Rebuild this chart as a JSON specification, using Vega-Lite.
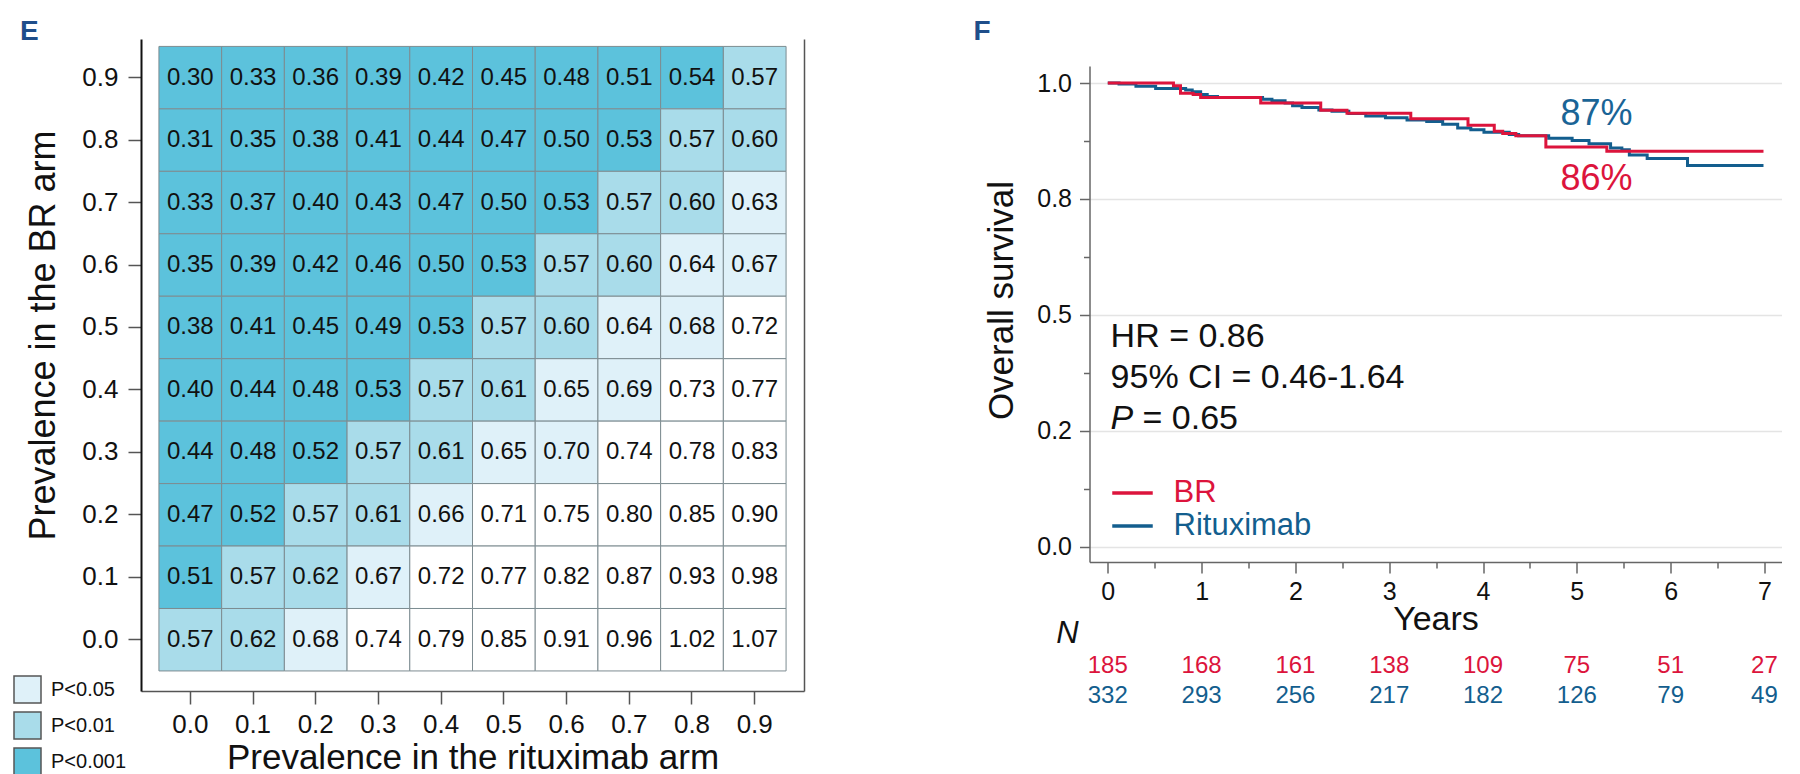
{
  "$schema": "https://vega.github.io/schema/vega-lite/v6.json",
  "background": "white",
  "padding": {"left": 13, "top": 18, "right": 0, "bottom": 0},
  "concat": [
    {
      "width": 663,
      "height": 652,
      "title": {"text": "E", "anchor": "start", "frame": "group", "dx": -121, "offset": -29.3, "baseline": "alphabetic", "fontSize": 28, "fontWeight": "bold", "color": "#1f4e8a"},
      "data": {"name": "heat"},
      "layer": [
        {
          "mark": {"type": "rect", "stroke": "#7d8c91", "strokeWidth": 1},
          "encoding": {
            "x": {"field": "r", "type": "ordinal", "scale": {"paddingInner": 0, "paddingOuter": 0.286},
              "axis": {"title": "Prevalence in the rituximab arm", "titleFontSize": 35, "titleBaseline": "alphabetic", "titleY": 77, "labelFontSize": 26, "labelAngle": 0, "format": ".1f", "formatType": "number", "tickSize": 13, "tickColor": "#555", "tickWidth": 1.5, "domainColor": "#555", "domainWidth": 1.5, "labelPadding": 7}},
            "y": {"field": "b", "type": "ordinal", "sort": "descending", "scale": {"paddingInner": 0, "paddingOuter": 0.22, "align": 0.27},
              "axis": {"title": "Prevalence in the BR arm", "titleFontSize": 36, "titleBaseline": "middle", "titleX": -98, "titleY": 296, "labelFontSize": 26, "format": ".1f", "formatType": "number", "tickSize": 13, "tickColor": "#555", "tickWidth": 1.5, "domainColor": "#111", "domainWidth": 2, "labelPadding": 10}},
            "color": {"field": "p", "type": "nominal",
              "scale": {"domain": ["P<0.05", "P<0.01", "P<0.001", "ns"], "range": ["#dff1f9", "#a9dcea", "#5cc2dc", "#ffffff"]},
              "legend": {"orient": "none", "legendX": -128, "legendY": 636, "title": null, "values": ["P<0.05", "P<0.01", "P<0.001"], "symbolType": "square", "symbolSize": 729, "symbolStrokeColor": "#555", "symbolStrokeWidth": 1.5, "symbolOpacity": 1, "labelFontSize": 20, "labelColor": "#111", "labelOffset": 9, "rowPadding": 3, "padding": 0}}
          }
        },
        {
          "mark": {"type": "text", "fontSize": 24, "color": "#111"},
          "encoding": {
            "x": {"field": "r", "type": "ordinal"},
            "y": {"field": "b", "type": "ordinal", "sort": "descending",
              "axis": {"orient": "right", "labels": false, "ticks": false, "title": null, "grid": false, "domain": true, "domainColor": "#555", "domainWidth": 1.5}},
            "text": {"field": "hr", "type": "quantitative", "format": ".2f"}
          }
        }
      ],
      "resolve": {"axis": {"y": "independent"}}
    },
    {
      "width": 692,
      "height": 523,
      "title": {"text": "F", "anchor": "start", "frame": "group", "dx": -116, "offset": -29.3, "baseline": "alphabetic", "fontSize": 28, "fontWeight": "bold", "color": "#1f4e8a"},
      "layer": [
        {
          "data": {"name": "km"},
          "mark": {"type": "line", "interpolate": "step-after", "strokeWidth": 3},
          "encoding": {
            "x": {"field": "t", "type": "quantitative", "scale": {"domain": [-0.195, 7.182], "nice": false, "zero": false},
              "axis": {"title": "Years", "titleFontSize": 34, "titleBaseline": "alphabetic", "titleY": 67, "labelFontSize": 25, "grid": false,
                "values": [0, 0.25, 0.5, 0.75, 1, 1.25, 1.5, 1.75, 2, 2.25, 2.5, 2.75, 3, 3.25, 3.5, 3.75, 4, 4.25, 4.5, 4.75, 5, 5.25, 5.5, 5.75, 6, 6.25, 6.5, 6.75, 7],
                "labelExpr": "datum.value % 1 === 0 ? format(datum.value, 'd') : ''",
                "labelOverlap": false, "labelFlush": false,
                "tickSize": {"condition": {"test": "datum.value % 1 === 0", "value": 11}, "value": 6},
                "tickColor": "#666", "tickWidth": 1.5, "domainColor": "#666", "domainWidth": 1.5, "labelPadding": 6}},
            "y": {"field": "s", "type": "quantitative", "scale": {"domain": [-0.033, 1.0949], "nice": false, "zero": false},
              "axis": {"title": "Overall survival", "titleFontSize": 35, "titleBaseline": "middle", "titleX": -88, "titleY": 261, "labelFontSize": 25,
                "domain": true, "domainColor": "#666", "domainWidth": 1.5, "domainDash": [496, 300],
                "values": [0, 0.125, 0.25, 0.375, 0.5, 0.625, 0.75, 0.875, 1],
                "labelExpr": "datum.value === 0 ? '0.0' : datum.value === 0.25 ? '0.2' : datum.value === 0.5 ? '0.5' : datum.value === 0.75 ? '0.8' : datum.value === 1 ? '1.0' : ''",
                "labelOverlap": false, "labelFlush": false,
                "tickSize": {"condition": {"test": "datum.value * 4 % 1 === 0", "value": 10}, "value": 6},
                "grid": true, "gridColor": "#e4e4e4", "gridWidth": 1.5,
                "gridOpacity": {"condition": {"test": "datum.value * 4 % 1 === 0", "value": 1}, "value": 0},
                "tickColor": "#666", "tickWidth": 1.5, "labelPadding": 8}},
            "color": {"field": "arm", "type": "nominal", "scale": {"domain": ["BR", "Rituximab"], "range": ["#dc143c", "#135e8e"]},
              "legend": {"orient": "none", "legendX": 26, "legendY": 437, "title": null, "symbolType": "M-1.35,0H1.35", "symbolSize": 900, "symbolStrokeWidth": 3.5, "labelFontSize": 31, "labelOffset": 24, "rowPadding": 1, "padding": 0,
                "encode": {"labels": {"update": {"fill": {"signal": "datum.value === 'BR' ? '#dc143c' : '#135e8e'"}}}}}}
          }
        },
        {
          "data": {"name": "ann"},
          "mark": {"type": "text", "align": "left", "baseline": "alphabetic", "fontSize": 34, "color": "#111"},
          "encoding": {
            "x": {"field": "x", "type": "quantitative", "scale": {"domain": [-0.195, 7.182], "nice": false, "zero": false}},
            "y": {"field": "y", "type": "quantitative", "scale": {"domain": [-0.033, 1.0949], "nice": false, "zero": false}, "axis": null},
            "text": {"field": "label"}
          }
        },
        {
          "data": {"name": "annItalic"},
          "mark": {"type": "text", "align": "left", "baseline": "alphabetic", "fontSize": 34, "fontStyle": "italic", "color": "#111"},
          "encoding": {
            "x": {"field": "x", "type": "quantitative", "scale": {"domain": [-0.195, 7.182], "nice": false, "zero": false}},
            "y": {"field": "y", "type": "quantitative", "scale": {"domain": [-0.033, 1.0949], "nice": false, "zero": false}, "axis": null},
            "text": {"field": "label"}
          }
        },
        {
          "data": {"name": "pct"},
          "mark": {"type": "text", "align": "center", "baseline": "alphabetic", "fontSize": 36},
          "encoding": {
            "x": {"field": "x", "type": "quantitative", "scale": {"domain": [-0.195, 7.182], "nice": false, "zero": false}},
            "y": {"field": "y", "type": "quantitative", "scale": {"domain": [-0.033, 1.0949], "nice": false, "zero": false}, "axis": null},
            "text": {"field": "label"},
            "color": {"condition": {"test": "datum.arm === 'BR'", "value": "#dc143c"}, "value": "#1a6496"}
          }
        },
        {
          "data": {"name": "risk"},
          "mark": {"type": "text", "align": "center", "baseline": "alphabetic", "fontSize": 24},
          "encoding": {
            "x": {"field": "t", "type": "quantitative", "scale": {"domain": [-0.195, 7.182], "nice": false, "zero": false}},
            "y": {"field": "arm", "type": "nominal", "scale": {"type": "point", "domain": ["N", "BR", "Rituximab"], "range": [604, 664], "padding": 0}, "axis": null},
            "text": {"field": "n", "type": "quantitative"},
            "color": {"condition": {"test": "datum.arm === 'BR'", "value": "#dc143c"}, "value": "#135e8e"}
          }
        },
        {
          "data": {"name": "nlab"},
          "mark": {"type": "text", "align": "center", "baseline": "alphabetic", "fontSize": 31, "fontStyle": "italic", "color": "#111"},
          "encoding": {
            "x": {"field": "t", "type": "quantitative", "scale": {"domain": [-0.195, 7.182], "nice": false, "zero": false}},
            "y": {"field": "arm", "type": "nominal", "scale": {"type": "point", "domain": ["N", "BR", "Rituximab"], "range": [604, 664], "padding": 0}, "axis": null},
            "text": {"field": "label"}
          }
        }
      ],
      "resolve": {"scale": {"y": "independent"}}
    }
  ],
  "columns": 2,
  "spacing": 169.5,
  "resolve": {"scale": {"color": "independent"}, "legend": {"color": "independent"}},
  "config": {
    "font": "Liberation Sans",
    "view": {"stroke": null},
    "axis": {"labelFont": "Liberation Sans", "titleFont": "Liberation Sans", "labelColor": "#111", "titleColor": "#111", "titleFontWeight": "normal"},
    "legend": {"labelFont": "Liberation Sans"},
    "title": {"font": "Liberation Sans"},
    "text": {"font": "Liberation Sans"}
  },
  "datasets": {
    "heat": [
      {"b": 0.9, "r": 0.0, "hr": 0.30, "p": "P<0.001"}, {"b": 0.9, "r": 0.1, "hr": 0.33, "p": "P<0.001"}, {"b": 0.9, "r": 0.2, "hr": 0.36, "p": "P<0.001"}, {"b": 0.9, "r": 0.3, "hr": 0.39, "p": "P<0.001"}, {"b": 0.9, "r": 0.4, "hr": 0.42, "p": "P<0.001"},
      {"b": 0.9, "r": 0.5, "hr": 0.45, "p": "P<0.001"}, {"b": 0.9, "r": 0.6, "hr": 0.48, "p": "P<0.001"}, {"b": 0.9, "r": 0.7, "hr": 0.51, "p": "P<0.001"}, {"b": 0.9, "r": 0.8, "hr": 0.54, "p": "P<0.001"}, {"b": 0.9, "r": 0.9, "hr": 0.57, "p": "P<0.01"},
      {"b": 0.8, "r": 0.0, "hr": 0.31, "p": "P<0.001"}, {"b": 0.8, "r": 0.1, "hr": 0.35, "p": "P<0.001"}, {"b": 0.8, "r": 0.2, "hr": 0.38, "p": "P<0.001"}, {"b": 0.8, "r": 0.3, "hr": 0.41, "p": "P<0.001"}, {"b": 0.8, "r": 0.4, "hr": 0.44, "p": "P<0.001"},
      {"b": 0.8, "r": 0.5, "hr": 0.47, "p": "P<0.001"}, {"b": 0.8, "r": 0.6, "hr": 0.50, "p": "P<0.001"}, {"b": 0.8, "r": 0.7, "hr": 0.53, "p": "P<0.001"}, {"b": 0.8, "r": 0.8, "hr": 0.57, "p": "P<0.01"}, {"b": 0.8, "r": 0.9, "hr": 0.60, "p": "P<0.01"},
      {"b": 0.7, "r": 0.0, "hr": 0.33, "p": "P<0.001"}, {"b": 0.7, "r": 0.1, "hr": 0.37, "p": "P<0.001"}, {"b": 0.7, "r": 0.2, "hr": 0.40, "p": "P<0.001"}, {"b": 0.7, "r": 0.3, "hr": 0.43, "p": "P<0.001"}, {"b": 0.7, "r": 0.4, "hr": 0.47, "p": "P<0.001"},
      {"b": 0.7, "r": 0.5, "hr": 0.50, "p": "P<0.001"}, {"b": 0.7, "r": 0.6, "hr": 0.53, "p": "P<0.001"}, {"b": 0.7, "r": 0.7, "hr": 0.57, "p": "P<0.01"}, {"b": 0.7, "r": 0.8, "hr": 0.60, "p": "P<0.01"}, {"b": 0.7, "r": 0.9, "hr": 0.63, "p": "P<0.05"},
      {"b": 0.6, "r": 0.0, "hr": 0.35, "p": "P<0.001"}, {"b": 0.6, "r": 0.1, "hr": 0.39, "p": "P<0.001"}, {"b": 0.6, "r": 0.2, "hr": 0.42, "p": "P<0.001"}, {"b": 0.6, "r": 0.3, "hr": 0.46, "p": "P<0.001"}, {"b": 0.6, "r": 0.4, "hr": 0.50, "p": "P<0.001"},
      {"b": 0.6, "r": 0.5, "hr": 0.53, "p": "P<0.001"}, {"b": 0.6, "r": 0.6, "hr": 0.57, "p": "P<0.01"}, {"b": 0.6, "r": 0.7, "hr": 0.60, "p": "P<0.01"}, {"b": 0.6, "r": 0.8, "hr": 0.64, "p": "P<0.05"}, {"b": 0.6, "r": 0.9, "hr": 0.67, "p": "P<0.05"},
      {"b": 0.5, "r": 0.0, "hr": 0.38, "p": "P<0.001"}, {"b": 0.5, "r": 0.1, "hr": 0.41, "p": "P<0.001"}, {"b": 0.5, "r": 0.2, "hr": 0.45, "p": "P<0.001"}, {"b": 0.5, "r": 0.3, "hr": 0.49, "p": "P<0.001"}, {"b": 0.5, "r": 0.4, "hr": 0.53, "p": "P<0.001"},
      {"b": 0.5, "r": 0.5, "hr": 0.57, "p": "P<0.01"}, {"b": 0.5, "r": 0.6, "hr": 0.60, "p": "P<0.01"}, {"b": 0.5, "r": 0.7, "hr": 0.64, "p": "P<0.05"}, {"b": 0.5, "r": 0.8, "hr": 0.68, "p": "P<0.05"}, {"b": 0.5, "r": 0.9, "hr": 0.72, "p": "ns"},
      {"b": 0.4, "r": 0.0, "hr": 0.40, "p": "P<0.001"}, {"b": 0.4, "r": 0.1, "hr": 0.44, "p": "P<0.001"}, {"b": 0.4, "r": 0.2, "hr": 0.48, "p": "P<0.001"}, {"b": 0.4, "r": 0.3, "hr": 0.53, "p": "P<0.001"}, {"b": 0.4, "r": 0.4, "hr": 0.57, "p": "P<0.01"},
      {"b": 0.4, "r": 0.5, "hr": 0.61, "p": "P<0.01"}, {"b": 0.4, "r": 0.6, "hr": 0.65, "p": "P<0.05"}, {"b": 0.4, "r": 0.7, "hr": 0.69, "p": "P<0.05"}, {"b": 0.4, "r": 0.8, "hr": 0.73, "p": "ns"}, {"b": 0.4, "r": 0.9, "hr": 0.77, "p": "ns"},
      {"b": 0.3, "r": 0.0, "hr": 0.44, "p": "P<0.001"}, {"b": 0.3, "r": 0.1, "hr": 0.48, "p": "P<0.001"}, {"b": 0.3, "r": 0.2, "hr": 0.52, "p": "P<0.001"}, {"b": 0.3, "r": 0.3, "hr": 0.57, "p": "P<0.01"}, {"b": 0.3, "r": 0.4, "hr": 0.61, "p": "P<0.01"},
      {"b": 0.3, "r": 0.5, "hr": 0.65, "p": "P<0.05"}, {"b": 0.3, "r": 0.6, "hr": 0.70, "p": "P<0.05"}, {"b": 0.3, "r": 0.7, "hr": 0.74, "p": "ns"}, {"b": 0.3, "r": 0.8, "hr": 0.78, "p": "ns"}, {"b": 0.3, "r": 0.9, "hr": 0.83, "p": "ns"},
      {"b": 0.2, "r": 0.0, "hr": 0.47, "p": "P<0.001"}, {"b": 0.2, "r": 0.1, "hr": 0.52, "p": "P<0.001"}, {"b": 0.2, "r": 0.2, "hr": 0.57, "p": "P<0.01"}, {"b": 0.2, "r": 0.3, "hr": 0.61, "p": "P<0.01"}, {"b": 0.2, "r": 0.4, "hr": 0.66, "p": "P<0.05"},
      {"b": 0.2, "r": 0.5, "hr": 0.71, "p": "ns"}, {"b": 0.2, "r": 0.6, "hr": 0.75, "p": "ns"}, {"b": 0.2, "r": 0.7, "hr": 0.80, "p": "ns"}, {"b": 0.2, "r": 0.8, "hr": 0.85, "p": "ns"}, {"b": 0.2, "r": 0.9, "hr": 0.90, "p": "ns"},
      {"b": 0.1, "r": 0.0, "hr": 0.51, "p": "P<0.001"}, {"b": 0.1, "r": 0.1, "hr": 0.57, "p": "P<0.01"}, {"b": 0.1, "r": 0.2, "hr": 0.62, "p": "P<0.01"}, {"b": 0.1, "r": 0.3, "hr": 0.67, "p": "P<0.05"}, {"b": 0.1, "r": 0.4, "hr": 0.72, "p": "ns"},
      {"b": 0.1, "r": 0.5, "hr": 0.77, "p": "ns"}, {"b": 0.1, "r": 0.6, "hr": 0.82, "p": "ns"}, {"b": 0.1, "r": 0.7, "hr": 0.87, "p": "ns"}, {"b": 0.1, "r": 0.8, "hr": 0.93, "p": "ns"}, {"b": 0.1, "r": 0.9, "hr": 0.98, "p": "ns"},
      {"b": 0.0, "r": 0.0, "hr": 0.57, "p": "P<0.01"}, {"b": 0.0, "r": 0.1, "hr": 0.62, "p": "P<0.01"}, {"b": 0.0, "r": 0.2, "hr": 0.68, "p": "P<0.05"}, {"b": 0.0, "r": 0.3, "hr": 0.74, "p": "ns"}, {"b": 0.0, "r": 0.4, "hr": 0.79, "p": "ns"},
      {"b": 0.0, "r": 0.5, "hr": 0.85, "p": "ns"}, {"b": 0.0, "r": 0.6, "hr": 0.91, "p": "ns"}, {"b": 0.0, "r": 0.7, "hr": 0.96, "p": "ns"}, {"b": 0.0, "r": 0.8, "hr": 1.02, "p": "ns"}, {"b": 0.0, "r": 0.9, "hr": 1.07, "p": "ns"}
    ],
    "km": [
      {"arm": "Rituximab", "t": 0, "s": 1.0}, {"arm": "Rituximab", "t": 0.12, "s": 0.998}, {"arm": "Rituximab", "t": 0.30, "s": 0.993}, {"arm": "Rituximab", "t": 0.51, "s": 0.988},
      {"arm": "Rituximab", "t": 0.83, "s": 0.985}, {"arm": "Rituximab", "t": 0.90, "s": 0.981}, {"arm": "Rituximab", "t": 0.99, "s": 0.975}, {"arm": "Rituximab", "t": 1.06, "s": 0.971},
      {"arm": "Rituximab", "t": 1.17, "s": 0.969}, {"arm": "Rituximab", "t": 1.65, "s": 0.965}, {"arm": "Rituximab", "t": 1.75, "s": 0.962}, {"arm": "Rituximab", "t": 1.89, "s": 0.957},
      {"arm": "Rituximab", "t": 1.97, "s": 0.951}, {"arm": "Rituximab", "t": 2.07, "s": 0.947}, {"arm": "Rituximab", "t": 2.25, "s": 0.942}, {"arm": "Rituximab", "t": 2.39, "s": 0.939},
      {"arm": "Rituximab", "t": 2.57, "s": 0.934}, {"arm": "Rituximab", "t": 2.75, "s": 0.929}, {"arm": "Rituximab", "t": 2.96, "s": 0.925}, {"arm": "Rituximab", "t": 3.19, "s": 0.920},
      {"arm": "Rituximab", "t": 3.40, "s": 0.917}, {"arm": "Rituximab", "t": 3.57, "s": 0.911}, {"arm": "Rituximab", "t": 3.73, "s": 0.903}, {"arm": "Rituximab", "t": 3.87, "s": 0.899},
      {"arm": "Rituximab", "t": 4.01, "s": 0.894}, {"arm": "Rituximab", "t": 4.28, "s": 0.889}, {"arm": "Rituximab", "t": 4.38, "s": 0.886}, {"arm": "Rituximab", "t": 4.70, "s": 0.881},
      {"arm": "Rituximab", "t": 4.95, "s": 0.876}, {"arm": "Rituximab", "t": 5.13, "s": 0.869}, {"arm": "Rituximab", "t": 5.36, "s": 0.860}, {"arm": "Rituximab", "t": 5.48, "s": 0.856},
      {"arm": "Rituximab", "t": 5.56, "s": 0.845}, {"arm": "Rituximab", "t": 5.75, "s": 0.837}, {"arm": "Rituximab", "t": 6.18, "s": 0.822}, {"arm": "Rituximab", "t": 6.99, "s": 0.822},
      {"arm": "BR", "t": 0, "s": 1.0}, {"arm": "BR", "t": 0.70, "s": 0.994}, {"arm": "BR", "t": 0.775, "s": 0.978}, {"arm": "BR", "t": 0.91, "s": 0.975},
      {"arm": "BR", "t": 0.99, "s": 0.969}, {"arm": "BR", "t": 1.63, "s": 0.957}, {"arm": "BR", "t": 2.27, "s": 0.941}, {"arm": "BR", "t": 2.55, "s": 0.935},
      {"arm": "BR", "t": 3.23, "s": 0.923}, {"arm": "BR", "t": 3.84, "s": 0.909}, {"arm": "BR", "t": 4.12, "s": 0.896}, {"arm": "BR", "t": 4.21, "s": 0.891},
      {"arm": "BR", "t": 4.35, "s": 0.886}, {"arm": "BR", "t": 4.67, "s": 0.862}, {"arm": "BR", "t": 5.32, "s": 0.853}, {"arm": "BR", "t": 6.99, "s": 0.853}
    ],
    "ann": [
      {"x": 0.03, "y": 0.431, "label": "HR = 0.86"},
      {"x": 0.03, "y": 0.343, "label": "95% CI = 0.46-1.64"},
      {"x": 0.37, "y": 0.253, "label": "= 0.65"}
    ],
    "annItalic": [
      {"x": 0.03, "y": 0.253, "label": "P"}
    ],
    "pct": [
      {"arm": "Rituximab", "x": 5.21, "y": 0.910, "label": "87%"},
      {"arm": "BR", "x": 5.21, "y": 0.770, "label": "86%"}
    ],
    "risk": [
      {"arm": "BR", "t": 0, "n": 185}, {"arm": "BR", "t": 1, "n": 168}, {"arm": "BR", "t": 2, "n": 161}, {"arm": "BR", "t": 3, "n": 138},
      {"arm": "BR", "t": 4, "n": 109}, {"arm": "BR", "t": 5, "n": 75}, {"arm": "BR", "t": 6, "n": 51}, {"arm": "BR", "t": 7, "n": 27},
      {"arm": "Rituximab", "t": 0, "n": 332}, {"arm": "Rituximab", "t": 1, "n": 293}, {"arm": "Rituximab", "t": 2, "n": 256}, {"arm": "Rituximab", "t": 3, "n": 217},
      {"arm": "Rituximab", "t": 4, "n": 182}, {"arm": "Rituximab", "t": 5, "n": 126}, {"arm": "Rituximab", "t": 6, "n": 79}, {"arm": "Rituximab", "t": 7, "n": 49}
    ],
    "nlab": [
      {"arm": "N", "t": -0.43, "label": "N"}
    ]
  }
}
